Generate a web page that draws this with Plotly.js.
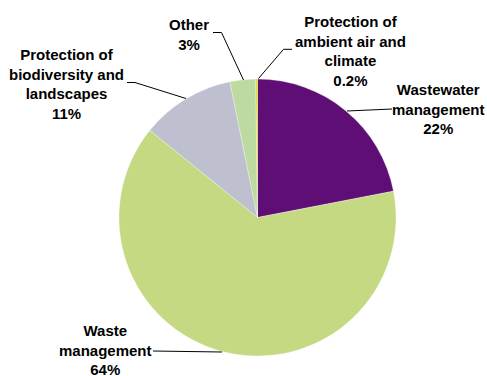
<!DOCTYPE html>
<html>
<head>
<meta charset="utf-8">
<script src="https://cdn.plot.ly/plotly-3.0.1.min.js"></script>
<style>html,body{margin:0;padding:0;background:#fff;}#chart{width:487px;height:376px;}</style>
</head>
<body>
<div id="chart"></div>
<script>
// Data
var categories = ["Wastewater management", "Waste management", "Protection of biodiversity and landscapes", "Other", "Protection of ambient air and climate"];
var shares = [22, 64, 11, 3, 0.2];
var shareLabels = ["22%", "64%", "11%", "3%", "0.2%"];
var labelLines = [
  ["Wastewater", "management"],
  ["Waste", "management"],
  ["Protection of", "biodiversity and", "landscapes"],
  ["Other"],
  ["Protection of", "ambient air and", "climate"]
];
var colors = ["#5E0E74", "#C4D982", "#BEBFCF", "#BDDAA0", "#DEDC0A"];

var W = 487, H = 376;
function px(x) { return x / W; }
function py(y) { return 1 - y / H; }

// label placement (pixels) and leader lines (pixels)
var labelPos = [[438, 109], [105, 349.5], [66, 84], [189, 34], [350, 51]];
var leaders = [
  [[347, 111], [392, 109]],
  [[153, 351], [222, 352]],
  [[127, 82.5], [135, 82.5], [186, 98.5]],
  [[213, 32.5], [221.5, 32.5], [243.5, 80]],
  [[292, 49.3], [283.5, 49.3], [258.5, 78.5]]
];

var annotations = categories.map(function (c, i) {
  return {
    xref: "paper", yref: "paper",
    x: px(labelPos[i][0]), y: py(labelPos[i][1]),
    xanchor: "center", yanchor: "middle",
    text: labelLines[i].concat([shareLabels[i]]).join("<br>"),
    showarrow: false,
    align: "center",
    font: { family: "Liberation Sans, Arial, sans-serif", size: 15, color: "#000", weight: "bold" }
  };
});

var shapes = leaders.map(function (pts) {
  var d = pts.map(function (p, j) { return (j ? "L" : "M") + px(p[0]) + "," + py(p[1]); }).join(" ");
  return { type: "path", xref: "paper", yref: "paper", path: d, line: { color: "#000", width: 1 } };
});

var trace = {
  type: "pie",
  labels: categories,
  values: shares,
  sort: false,
  direction: "clockwise",
  rotation: 0,
  textinfo: "none",
  hoverinfo: "none",
  marker: { colors: colors, line: { color: "rgba(255,255,255,0.6)", width: 0.5 } },
  domain: { x: [px(119), px(396)], y: [py(356), py(79)] },
  showlegend: false
};

var layout = {
  width: W, height: H,
  margin: { l: 0, r: 0, t: 0, b: 0 },
  paper_bgcolor: "#fff",
  plot_bgcolor: "#fff",
  showlegend: false,
  annotations: annotations,
  shapes: shapes
};

Plotly.newPlot("chart", [trace], layout, { staticPlot: true, displayModeBar: false });
</script>
</body>
</html>
